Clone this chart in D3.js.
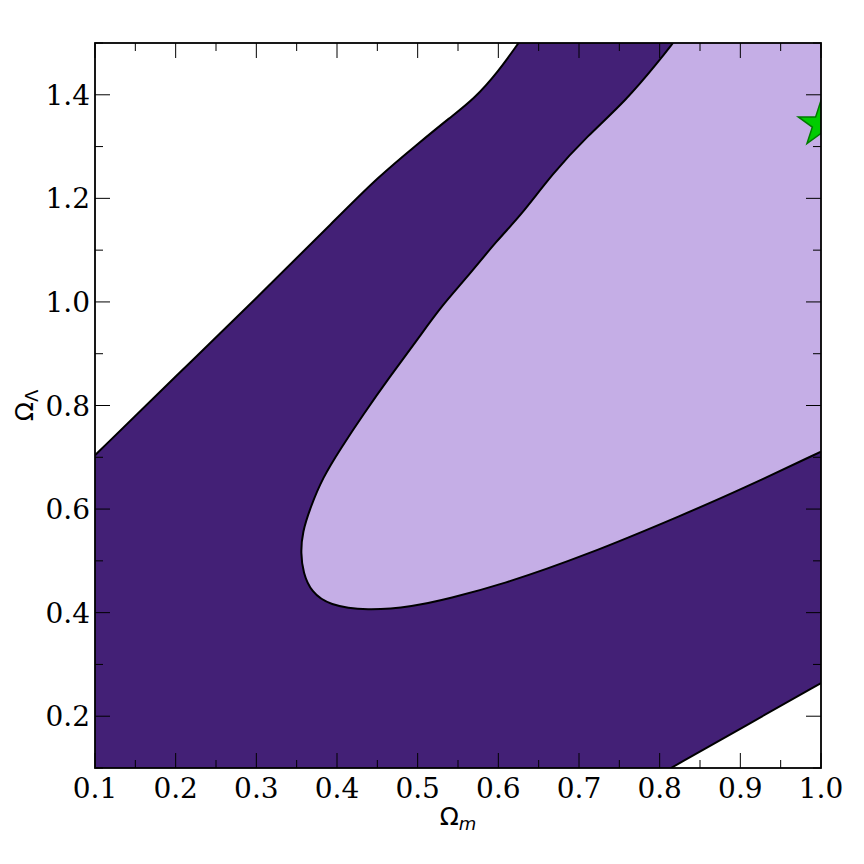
<!DOCTYPE html>
<html>
<head>
<meta charset="utf-8">
<script src="https://cdn.jsdelivr.net/npm/d3@7"></script>
<style>
  body { margin: 0; background: #fff; }
</style>
</head>
<body>
<svg id="chart" width="864" height="864"></svg>
<script>
// Outer (2 sigma) contour, upper-left edge
const outerUpper = [
  [0.10, 0.704], [0.20, 0.856], [0.30, 1.007], [0.40, 1.162], [0.45, 1.240],
  [0.50, 1.305], [0.54, 1.356], [0.57, 1.392], [0.60, 1.445], [0.625, 1.50]
];
// Outer contour, lower-right edge
const outerLower = [[0.814, 0.10], [0.907, 0.182], [1.0, 0.264]];

// Inner (1 sigma) contour, from the top edge round to the right edge
const innerContour = [
  [0.8165, 1.50], [0.800, 1.467], [0.759, 1.390], [0.7095, 1.319], [0.6677, 1.249],
  [0.627, 1.165], [0.600, 1.122], [0.560, 1.045], [0.530, 0.993], [0.500, 0.928],
  [0.4657, 0.856], [0.4322, 0.782], [0.405, 0.718], [0.382, 0.660], [0.367, 0.603],
  [0.357, 0.555], [0.355, 0.515], [0.358, 0.477], [0.368, 0.440], [0.390, 0.414],
  [0.4368, 0.4037], [0.4942, 0.4115], [0.540, 0.428], [0.602, 0.453], [0.7095, 0.511],
  [0.8335, 0.592], [0.8996, 0.637], [1.0, 0.711]
];

// best fit marker
const starPoint = [1.0, 1.343];

const xMajor = [0.1, 0.2, 0.3, 0.4, 0.5, 0.6, 0.7, 0.8, 0.9, 1.0];
const xMinor = [0.15, 0.25, 0.35, 0.45, 0.55, 0.65, 0.75, 0.85, 0.95];
const yMajor = [0.2, 0.4, 0.6, 0.8, 1.0, 1.2, 1.4];
const yMinor = [0.1, 0.3, 0.5, 0.7, 0.9, 1.1, 1.3, 1.5];

const margin = { top: 43, right: 43, bottom: 96, left: 95 };
const width = 864 - margin.left - margin.right,
  height = 864 - margin.top - margin.bottom;

const darkFill = "#432076",
  lightFill = "#c5aee6",
  serif = "'DejaVu Serif', serif",
  sans = "'DejaVu Sans', sans-serif";

const svg = d3.select("#chart");
const g = svg.append("g")
  .attr("transform", "translate(" + margin.left + "," + margin.top + ")");

const x = d3.scaleLinear().domain([0.1, 1.0]).range([0, width]);
const y = d3.scaleLinear().domain([0.1, 1.5]).range([height, 0]);

g.append("clipPath").attr("id", "plotclip")
  .append("rect").attr("width", width).attr("height", height);

const plot = g.append("g").attr("clip-path", "url(#plotclip)");

const smooth = d3.line().x(d => x(d[0])).y(d => y(d[1])).curve(d3.curveBasis);

// dark band: outer contour region
const outerRegion = smooth(outerUpper) +
  "L" + x(1.0) + "," + y(1.5) +
  "L" + x(1.0) + "," + y(outerLower[outerLower.length - 1][1]) +
  smooth(outerLower.slice().reverse()).replace(/^M/, "L") +
  "L" + x(0.1) + "," + y(0.1) + "Z";
plot.append("path")
  .attr("d", outerRegion)
  .attr("fill", darkFill);

// light region inside the inner contour
plot.append("path")
  .attr("d", smooth(innerContour) + "L" + x(1.0) + "," + y(1.5) + "Z")
  .attr("fill", lightFill);

// contour lines
[outerUpper, outerLower, innerContour].forEach(c => {
  plot.append("path")
    .attr("d", smooth(c))
    .attr("fill", "none")
    .attr("stroke", "#000")
    .attr("stroke-width", 2);
});

// star marker
const star = d3.symbol().type(d3.symbolStar).size(640);
plot.append("path")
  .attr("d", star())
  .attr("transform", "translate(" + x(starPoint[0]) + "," + y(starPoint[1]) + ")")
  .attr("fill", "#00cc00")
  .attr("stroke", "#007a00")
  .attr("stroke-width", 1.5);

// ticks, inward on all four sides
const tickG = g.append("g").attr("stroke", "#000").attr("stroke-width", 1);
function xTicks(vals, len) {
  vals.forEach(v => {
    tickG.append("line").attr("x1", x(v)).attr("x2", x(v)).attr("y1", height).attr("y2", height - len);
    tickG.append("line").attr("x1", x(v)).attr("x2", x(v)).attr("y1", 0).attr("y2", len);
  });
}
function yTicks(vals, len) {
  vals.forEach(v => {
    tickG.append("line").attr("y1", y(v)).attr("y2", y(v)).attr("x1", 0).attr("x2", len);
    tickG.append("line").attr("y1", y(v)).attr("y2", y(v)).attr("x1", width).attr("x2", width - len);
  });
}
xTicks(xMajor, 15); xTicks(xMinor, 8);
yTicks(yMajor, 15); yTicks(yMinor, 8);

// frame
g.append("rect")
  .attr("width", width).attr("height", height)
  .attr("fill", "none").attr("stroke", "#000").attr("stroke-width", 1.8);

// tick labels
g.selectAll(".xlab").data(xMajor).enter().append("text")
  .attr("x", d => x(d)).attr("y", height + 30)
  .attr("text-anchor", "middle")
  .style("font-family", serif).style("font-size", "28px")
  .text(d => d.toFixed(1));

g.selectAll(".ylab").data(yMajor).enter().append("text")
  .attr("x", -5).attr("y", d => y(d) + 10)
  .attr("text-anchor", "end")
  .style("font-family", serif).style("font-size", "28px")
  .text(d => d.toFixed(1));

// axis titles
const xTitle = g.append("text")
  .attr("x", width / 2).attr("y", height + 57)
  .attr("text-anchor", "middle")
  .style("font-family", sans).style("font-size", "25px");
xTitle.append("tspan").text("Ω");
xTitle.append("tspan").attr("dy", 5).style("font-size", "18px").style("font-style", "italic").text("m");

const yTitle = g.append("text")
  .attr("transform", "translate(-62," + (height / 2) + ") rotate(-90)")
  .attr("text-anchor", "middle")
  .style("font-family", sans).style("font-size", "25px");
yTitle.append("tspan").text("Ω");
yTitle.append("tspan").attr("dy", 5).style("font-size", "18px").text("Λ");
</script>
</body>
</html>
